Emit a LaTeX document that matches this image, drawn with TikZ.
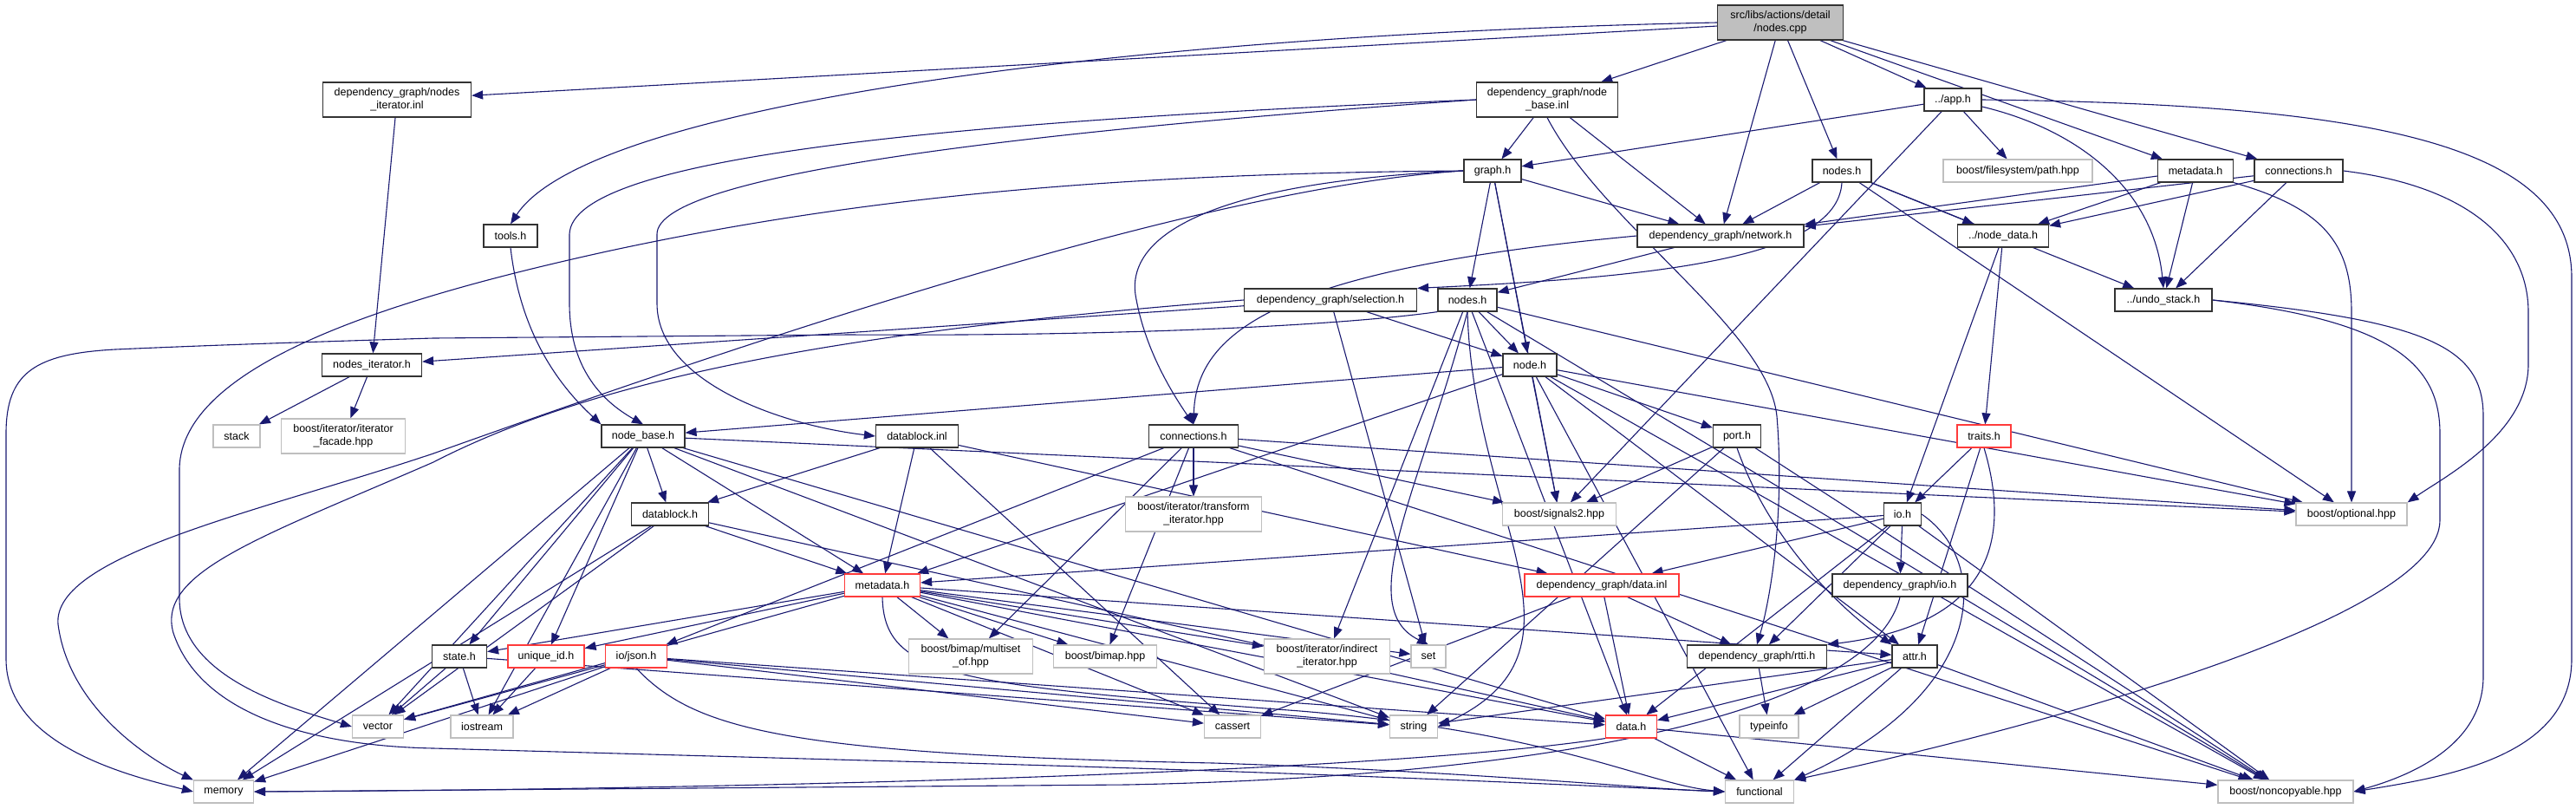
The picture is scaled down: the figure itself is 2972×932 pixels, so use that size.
\documentclass[tikz,border=0pt]{standalone}
\usepackage{fontspec}
\setmainfont{Liberation Sans}
\usetikzlibrary{arrows.meta,backgrounds}
\definecolor{edgeblue}{HTML}{191970}
\definecolor{extgray}{HTML}{BFBFBF}
\definecolor{partred}{HTML}{FF3B3B}

\begin{document}
\begin{tikzpicture}[x=1pt,y=-1pt,
  box/.style={draw=black!80,fill=white,line width=1.2pt,inner sep=0pt,minimum height=26pt,align=center,font=\fontsize{12.5}{15}\selectfont},
  ext/.style={box,draw=extgray},
  part/.style={box,draw=partred},
  tall/.style={minimum height=40pt},
  dep/.style={draw=edgeblue,line width=1.1pt,-{Triangle[length=13pt,width=10pt]}}]
\useasboundingbox (0,0) rectangle (2972,932);

% files
\node[box,tall,fill=extgray,minimum width=145pt] (root) at (2054,26) {src/libs/actions/detail\\/nodes.cpp};
\node[box,tall,minimum width=171pt] (nitinl) at (458,115) {dependency\_graph/nodes\\\_iterator.inl};
\node[box,tall,minimum width=163pt] (nbinl) at (1785,115) {dependency\_graph/node\\\_base.inl};
\node[box,minimum width=66pt] (apph) at (2253,115) {../app.h};
\node[box,minimum width=66pt] (graph) at (1722,197) {graph.h};
\node[box,minimum width=68pt] (nodesa) at (2125,197) {nodes.h};
\node[ext,minimum width=172pt] (fspath) at (2328,197) {boost/filesystem/path.hpp};
\node[box,minimum width=87pt] (metaa) at (2533,197) {metadata.h};
\node[box,minimum width=102pt] (conna) at (2652,197) {connections.h};
\node[box,minimum width=62pt] (tools) at (589,272) {tools.h};
\node[box,minimum width=192pt] (network) at (1985,272) {dependency\_graph/network.h};
\node[box,minimum width=105pt] (nodedata) at (2311,272) {../node\_data.h};
\node[box,minimum width=199pt] (selection) at (1535,346) {dependency\_graph/selection.h};
\node[box,minimum width=68pt] (nodesb) at (1693,346) {nodes.h};
\node[box,minimum width=112pt] (undo) at (2496,346) {../undo\_stack.h};
\node[box,minimum width=115pt] (nith) at (429,421) {nodes\_iterator.h};
\node[box,minimum width=62pt] (nodeh) at (1765,421) {node.h};
\node[ext,minimum width=54pt] (stack) at (273,503) {stack};
\node[ext,tall,minimum width=143pt] (itfacade) at (396,503) {boost/iterator/iterator\\\_facade.hpp};
\node[box,minimum width=96pt] (nodebase) at (742,503) {node\_base.h};
\node[box,minimum width=95pt] (dbinl) at (1058,503) {datablock.inl};
\node[box,minimum width=103pt] (connb) at (1377,503) {connections.h};
\node[box,minimum width=55pt] (port) at (2004,503) {port.h};
\node[part,minimum width=62pt] (traits) at (2289,503) {traits.h};
\node[box,minimum width=89pt] (dbh) at (773,593) {datablock.h};
\node[ext,tall,minimum width=157pt] (transform) at (1377,593) {boost/iterator/transform\\\_iterator.hpp};
\node[ext,minimum width=131pt] (signals) at (1799,593) {boost/signals2.hpp};
\node[box,minimum width=43pt] (ioh) at (2195,593) {io.h};
\node[ext,minimum width=128pt] (optional) at (2713,593) {boost/optional.hpp};
\node[part,minimum width=87pt] (metab) at (1018,675) {metadata.h};
\node[part,minimum width=178pt] (datainl) at (1848,675) {dependency\_graph/data.inl};
\node[box,minimum width=156pt] (dgio) at (2192,675) {dependency\_graph/io.h};
\node[box,minimum width=63pt] (state) at (530,757) {state.h};
\node[part,minimum width=88pt] (uid) at (630,757) {unique\_id.h};
\node[part,minimum width=71pt] (json) at (734,757) {io/json.h};
\node[ext,tall,minimum width=143pt] (multiset) at (1120,757) {boost/bimap/multiset\\\_of.hpp};
\node[ext,minimum width=119pt] (bimap) at (1275,757) {boost/bimap.hpp};
\node[ext,tall,minimum width=145pt] (indirect) at (1531,757) {boost/iterator/indirect\\\_iterator.hpp};
\node[ext,minimum width=40pt] (set) at (1648,757) {set};
\node[box,minimum width=161pt] (rtti) at (2027,757) {dependency\_graph/rtti.h};
\node[box,minimum width=52pt] (attr) at (2209,757) {attr.h};
\node[ext,minimum width=59pt] (vector) at (436,838) {vector};
\node[ext,minimum width=72pt] (iostream) at (556,838) {iostream};
\node[ext,minimum width=65pt] (cassert) at (1422,838) {cassert};
\node[ext,minimum width=55pt] (string) at (1631,838) {string};
\node[part,minimum width=59pt] (datah) at (1882,838) {data.h};
\node[ext,minimum width=68pt] (typeinfo) at (2041,838) {typeinfo};
\node[ext,minimum width=69pt] (memory) at (258,913) {memory};
\node[ext,minimum width=79pt] (functional) at (2030,913) {functional};
\node[ext,minimum width=156pt] (noncopyable) at (2637,913) {boost/noncopyable.hpp};

% includes
\begin{scope}[on background layer]
\foreach \a/\b in {root/nitinl, root/nbinl, root/network, root/nodesa, root/apph, root/metaa, root/conna,
  nitinl/nith, nbinl/graph, nbinl/network, apph/graph, apph/fspath, apph/signals,
  graph/nodesb, graph/nodeh, graph/network, graph/signals,
  nodesa/network, nodesa/nodedata, nodesa/undo, nodesa/optional,
  metaa/network, metaa/nodedata, metaa/undo, conna/network, conna/nodedata, conna/undo,
  network/nodesb, selection/nith, selection/nodeh, selection/set, nodedata/traits, nodedata/ioh,
  nodesb/nodeh, nodesb/indirect, nodesb/datah, nodesb/optional, nodesb/noncopyable,
  nith/stack, nith/itfacade,
  nodeh/nodebase, nodeh/metab, nodeh/port, nodeh/signals, nodeh/attr, nodeh/optional, nodeh/noncopyable, nodeh/functional,
  nodebase/dbh, nodebase/metab, nodebase/state, nodebase/uid, nodebase/vector, nodebase/iostream, nodebase/memory, nodebase/string, nodebase/datah, nodebase/optional,
  dbinl/dbh, dbinl/metab, dbinl/cassert, dbinl/datainl, dbh/metab, dbh/datah, dbh/memory, dbh/vector,
  connb/transform, connb/multiset, connb/bimap, connb/signals, connb/json, connb/optional, connb/noncopyable,
  port/signals, port/string, port/noncopyable, traits/ioh, traits/attr,
  ioh/dgio, ioh/rtti, ioh/metab, ioh/datainl, ioh/noncopyable, ioh/datah,
  metab/state, metab/uid, metab/multiset, metab/bimap, metab/indirect, metab/set, metab/attr, metab/vector, metab/cassert, metab/string, metab/datah,
  datainl/datah, datainl/rtti, datainl/cassert,
  state/iostream, state/vector, state/string, uid/iostream,
  json/iostream, json/vector, json/memory, json/string, json/cassert, json/datah,
  rtti/typeinfo, attr/typeinfo, attr/functional, attr/string, attr/datah, attr/noncopyable,
  datah/functional, datah/noncopyable}
  \draw[dep] (\a) -- (\b);

\draw[dep] (root.west) .. controls (1300,40) and (680,120) .. (tools.north);
\draw[dep] (graph.west) .. controls (1300,200) and (1000,225) .. (700,290) .. controls (450,345) and (210,420) .. (207,540) -- (207,690) .. controls (207,780) and (330,815) .. (vector.west);
\draw[dep] (graph.west) .. controls (1400,215) and (900,380) .. (500,523) .. controls (300,590) and (60,640) .. (67,720) .. controls (80,820) and (180,880) .. (memory.north west);
\draw[dep] (selection.west) .. controls (1000,380) and (700,430) .. (500,533) .. controls (300,620) and (180,660) .. (200,730) .. controls (230,820) and (350,860) .. (500,863) -- (1000,877) .. controls (1500,890) and (1800,905) .. (functional.west);
\draw[dep] (nodesb.south west) .. controls (1550,375) and (1300,388) .. (980,386) -- (500,390) .. controls (300,396) and (200,400) .. (133,403) .. controls (40,408) and (7,430) .. (7,500) -- (7,760) .. controls (7,860) and (150,895) .. (memory.west);
\draw[dep] (apph.east) .. controls (2750,120) and (2967,170) .. (2967,320) -- (2967,760) .. controls (2967,870) and (2830,895) .. (noncopyable.east);
\draw[dep] (apph) .. controls (2400,150) and (2485,220) .. (undo.north);
\draw[dep] (undo.east) .. controls (2800,370) and (2865,400) .. (2865,480) -- (2865,780) .. controls (2865,860) and (2780,895) .. (noncopyable.east);
\draw[dep] (undo.east) .. controls (2760,370) and (2815,420) .. (2815,500) -- (2815,600) .. controls (2815,720) and (2300,850) .. (functional.north east);
\draw[dep] (metaa.south east) .. controls (2680,240) and (2713,280) .. (2713,360) -- (optional.north);
\draw[dep] (conna.east) .. controls (2850,215) and (2917,280) .. (2917,360) -- (2917,420) .. controls (2917,500) and (2820,550) .. (optional.north east);
\draw[dep] (tools.south) .. controls (600,380) and (640,440) .. (nodebase.north west);
\draw[dep] (nbinl.west) .. controls (1100,140) and (660,180) .. (657,270) -- (657,350) .. controls (657,420) and (690,460) .. (nodebase.north);
\draw[dep] (nbinl.west) .. controls (1200,150) and (758,200) .. (758,270) -- (758,350) .. controls (758,440) and (900,490) .. (dbinl.west);
\draw[dep] (nbinl.south) .. controls (1850,260) and (2040,380) .. (2050,480) .. controls (2060,600) and (2040,700) .. (rtti.north);
\draw[dep] (graph.west) .. controls (1400,210) and (1300,270) .. (1310,340) .. controls (1320,400) and (1350,450) .. (connb.north);
\draw[dep] (network.west) .. controls (1480,310) and (1380,380) .. (connb.north);
\draw[dep] (nodesa.south) .. controls (2120,300) and (1900,320) .. (selection.north east);
\draw[dep] (port.south) .. controls (2040,620) and (2120,700) .. (attr.north west);
\draw[dep] (traits.south) .. controls (2320,620) and (2300,720) .. (rtti.north east);
\draw[dep] (ioh.east) .. controls (2300,650) and (2290,800) .. (functional.north east);
\draw[dep] (nodesb.south) .. controls (1700,600) and (1850,750) .. (string.east);
\draw[dep] (nodesb.south) .. controls (1640,560) and (1560,700) .. (set.north);
\draw[dep] (dgio.south) .. controls (2160,820) and (1800,895) .. (1300,905) -- (memory.east);
\draw[dep] (datah.south west) .. controls (1600,890) and (900,910) .. (memory.east);
\draw[dep] (metab.south) .. controls (1020,780) and (1100,790) .. (1500,820) .. controls (1800,845) and (1900,905) .. (functional.west);
\draw[dep] (json.south) .. controls (800,840) and (900,870) .. (1400,880) .. controls (1700,890) and (1900,910) .. (functional.west);
\end{scope}
\end{tikzpicture}
\end{document}
